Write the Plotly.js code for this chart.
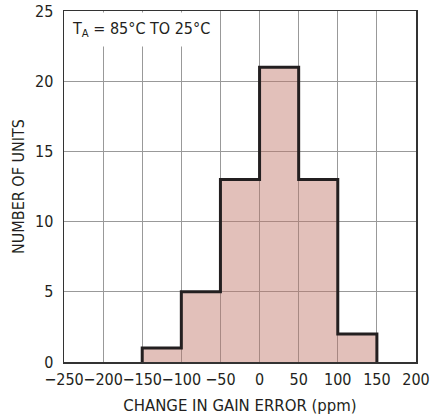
<!DOCTYPE html>
<html>
<head>
<meta charset="utf-8">
<script src="https://cdn.plot.ly/plotly-3.0.1.min.js"></script>
<style>
html,body{margin:0;padding:0;background:#fff;}
#chart{width:431px;height:419px;}
</style>
</head>
<body>
<div id="chart"></div>
<script>
// Data
const binCenters = [-125, -75, -25, 25, 75, 125];
const binWidth = 50;
const counts = [1, 5, 13, 21, 13, 2];
const xTicks = [-250, -200, -150, -100, -50, 0, 50, 100, 150, 200];
const xTickLabels = ['\u2212250', '\u2212200', '\u2212150', '\u2212100', '\u221250', '0', '50', '100', '150', '200'];
const yTicks = [0, 5, 10, 15, 20, 25];

// Step outline derived from bins
const outX = [], outY = [];
outX.push(binCenters[0] - binWidth / 2); outY.push(0);
for (let i = 0; i < counts.length; i++) {
  outX.push(binCenters[i] - binWidth / 2); outY.push(counts[i]);
  outX.push(binCenters[i] + binWidth / 2); outY.push(counts[i]);
}
outX.push(binCenters[binCenters.length - 1] + binWidth / 2); outY.push(0);

const FONT = '"DejaVu Sans Condensed", "DejaVu Sans", sans-serif';
const FS = 16;

const traces = [
  {
    type: 'bar', x: binCenters, y: counts, width: binWidth,
    marker: {color: 'rgba(191,115,102,0.45)', line: {width: 0}},
    hoverinfo: 'skip'
  },
  {
    type: 'scatter', mode: 'lines', x: outX, y: outY,
    line: {color: '#231f20', width: 3, shape: 'linear'},
    hoverinfo: 'skip'
  }
];

const layout = {
  width: 431, height: 419,
  margin: {l: 64, r: 15, t: 11, b: 57},
  paper_bgcolor: '#fff', plot_bgcolor: '#fff',
  showlegend: false,
  font: {family: FONT, size: FS, color: '#231f20'},
  xaxis: {
    range: [-250, 200], tickvals: xTicks, ticktext: xTickLabels, tickangle: 0,
    showgrid: true, gridcolor: '#999', gridwidth: 1,
    zeroline: false, showline: true, linecolor: '#333', linewidth: 1.5, mirror: true,
    ticks: '', ticklen: 0, ticklabelstandoff: 2,
    tickfont: {family: FONT, size: FS, color: '#231f20'},
    title: {text: 'CHANGE IN GAIN ERROR (ppm)', font: {family: FONT, size: 16.6, color: '#231f20'}, standoff: 11}
  },
  yaxis: {
    range: [0, 25], tickvals: yTicks,
    showgrid: true, gridcolor: '#999', gridwidth: 1,
    zeroline: false, showline: true, linecolor: '#333', linewidth: 1.5, mirror: true,
    ticks: '', ticklen: 0, ticklabelstandoff: 6,
    tickfont: {family: FONT, size: FS, color: '#231f20'},
    title: {text: 'NUMBER OF UNITS', font: {family: FONT, size: FS, color: '#231f20'}, standoff: 6}
  },
  annotations: [{
    xref: 'paper', yref: 'paper', x: 0, y: 1, xanchor: 'left', yanchor: 'top',
    text: 'T<sub>A</sub> = 85°C TO 25°C', showarrow: false,
    bgcolor: '#fff', borderpad: 6, xshift: 1, yshift: -1,
    font: {family: FONT, size: FS, color: '#231f20'}
  }]
};

Plotly.newPlot('chart', traces, layout, {displayModeBar: false, staticPlot: true});
</script>
</body>
</html>
